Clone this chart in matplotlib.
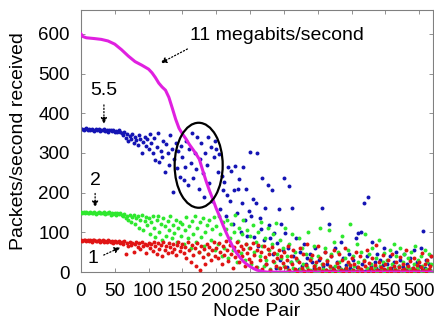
import numpy as np
import matplotlib
matplotlib.use("Agg")
import matplotlib.pyplot as plt
from matplotlib.patches import Ellipse

plt.rcParams['font.family'] = ['Liberation Sans', 'DejaVu Sans']

# -----------------------------
# Data (node pairs sorted by 11 Mbit/s throughput)
# -----------------------------

# 11 megabits/second curve
mag_x = [0, 3, 8, 20, 30, 40, 50, 60, 70, 80,
         90, 100, 105, 110, 115, 120, 125, 130, 135, 140,
         145, 150, 155, 160, 165, 170, 175, 180, 185, 190,
         195, 200, 205, 210, 215, 220, 225, 230, 235, 240,
         245, 250, 255, 260, 265, 270, 275, 520]
mag_y = [600, 593, 590, 588, 586, 582, 574, 560, 544, 530,
         521, 511, 502, 490, 476, 466, 458, 440, 413, 385,
         362, 348, 336, 322, 310, 298, 284, 256, 229, 205,
         183, 160, 140, 118, 98, 79, 62, 48, 37, 27,
         20, 14, 9, 5, 3, 1, 0, 0]

# 5.5 megabits/second, one value every second node pair
blue_y = [
    360, 361, 359, 360, 362, 358, 360, 357, 361, 359,
    356, 360, 358, 361, 355, 359, 357, 360, 356, 358,
    354, 359, 357, 355, 358, 352, 356, 354, 357, 353,
    350, 345, 352, 338, 347, 330, 342, 335, 348, 325,
    340, 333, 320, 345, 336, 300, 328, 341, 318, 335,
    310, 347, 325, 300, 338, 282, 315, 350, 276, 305,
    290, 330, 251, 322, 300, 270, 345, 310, 201, 285,
    325, 262, 305, 240, 318,
    290, 231, 264, 330, 220, 310, 274, 350, 236, 300,
    260, 340, 210, 285, 325, 250, 190, 300, 270, 340,
    225, 315, 180, 290, 330,
    311, 251, 298, 160, 243, 206, 226, 140, 195, 265,
    180, 255, 120, 206, 268, 150, 210, 235, 100, 175,
    264, 130, 210, 90, 155,
    302, 140, 185, 88, 173, 299, 65, 136, 108, 236,
    80, 161, 20, 220, 118, 85, 206, 45, 98, 10,
    73, 158, 30, 120, 55,
    236, 98, 12, 60, 216, 25, 161, 40, 5, 85,
    30, 8, 50, 15, 3, 70, 20, 35, 6, 45,
    2, 25, 10, 60, 4,
    8, 30, 3, 161, 15, 50, 5, 20, 121, 2,
    40, 10, 6, 60, 25, 3, 12, 75, 4, 35,
    8, 18, 2, 45, 10,
    5, 30, 3, 85, 12, 98, 6, 100, 20, 173,
    4, 40, 190, 8, 15, 75, 3, 25, 10, 45,
    5, 30, 2, 18, 60,
    6, 20, 3, 40, 10, 2, 25, 8, 50, 4,
    15, 30, 3, 12, 45, 5, 20, 2, 35, 8,
    10, 55, 4, 25, 3, 15, 60, 6, 103, 10,
    30, 3, 20, 5, 40,
]

# 2 megabits/second
green_y = [
    151, 150, 152, 149, 151, 150, 148, 152, 150, 149,
    151, 147, 150, 152, 148, 150, 149, 151, 146, 150,
    148, 151, 145, 149, 147, 150, 144, 148, 146, 149,
    145, 140, 147, 135, 142, 130, 144, 125, 138, 145,
    120, 136, 141, 112, 130, 143, 105, 128, 138, 118,
    135, 95, 125, 142, 110, 88, 130, 140, 100, 120,
    80, 136, 115, 92, 128, 105, 140, 85, 118, 98,
    132, 76, 110, 125, 90,
    120, 70, 105, 138, 85, 115, 60, 128, 95, 140,
    75, 110, 50, 125, 88, 135, 65, 100, 118, 45,
    130, 80, 108, 138, 55,
    115, 70, 140, 95, 40, 125, 60, 108, 130, 35,
    85, 120, 55, 100, 145, 25, 78, 112, 48, 95,
    130, 30, 70, 105, 60,
    90, 20, 118, 50, 75, 12, 100, 40, 125, 65,
    15, 85, 30, 110, 55, 8, 70, 95, 25, 123,
    45, 10, 80, 35, 60,
    15, 110, 40, 5, 70, 25, 95, 10, 50, 3,
    30, 85, 8, 60, 20, 4, 45, 12, 100, 6,
    35, 2, 65, 18, 9,
    40, 5, 112, 20, 8, 60, 3, 30, 106, 12,
    45, 4, 75, 15, 2, 50, 25, 7, 90, 3,
    35, 10, 55, 20, 120,
    6, 40, 15, 3, 70, 25, 8, 50, 2, 30,
    95, 10, 4, 45, 20, 60, 5, 12, 35, 3,
    80, 15, 6, 25, 48,
    4, 30, 10, 55, 3, 20, 70, 8, 40, 2,
    15, 60, 5, 25, 45, 3, 12, 35, 7, 50,
    2, 20, 65, 10, 30, 4, 40, 15, 3, 55,
    8, 25, 45, 5, 20,
]

# 1 megabit/second
red_y = [
    80, 79, 80, 81, 78, 80, 79, 80, 77, 80,
    81, 79, 78, 80, 76, 79, 80, 77, 79, 75,
    80, 78, 76, 79, 74, 78, 77, 75, 79, 73,
    76, 70, 78, 45, 72, 65, 77, 68, 74, 50,
    70, 76, 62, 73, 58, 75, 66, 71, 48, 69,
    74, 60, 70, 52, 77, 65, 45, 72, 58, 68,
    40, 75, 55, 66, 48, 72, 62, 50, 70, 57,
    44, 68, 75, 53, 63,
    70, 48, 62, 35, 75, 55, 25, 68, 42, 60,
    15, 72, 50, 5, 65, 38, 58, 20, 70, 45,
    62, 30, 55, 75, 40,
    60, 35, 72, 50, 20, 65, 42, 78, 55, 28,
    68, 45, 10, 62, 38, 75, 52, 25, 66, 40,
    58, 15, 70, 48, 32,
    60, 25, 72, 42, 12, 55, 68, 30, 50, 8,
    65, 38, 20, 58, 45, 5, 62, 28, 48, 15,
    35, 55, 10, 40, 22,
    50, 12, 30, 65, 5, 40, 20, 55, 8, 35,
    3, 25, 60, 10, 45, 4, 18, 70, 6, 30,
    2, 42, 15, 8, 25,
    65, 10, 35, 4, 20, 50, 6, 28, 2, 15,
    40, 8, 55, 3, 22, 12, 45, 5, 30, 2,
    60, 10, 25, 4, 18,
    35, 6, 20, 50, 3, 12, 40, 8, 2, 28,
    15, 55, 4, 22, 10, 35, 3, 18, 68, 6,
    25, 2, 14, 42, 8,
    20, 4, 30, 10, 2, 45, 15, 6, 25, 3,
    12, 38, 5, 20, 8, 55, 2, 15, 28, 4,
    10, 35, 6, 18, 3, 25, 12, 48, 5, 20,
    2, 30, 8, 15, 40,
]

pair_x = np.arange(0, 520, 2)

# -----------------------------
# Plot
# -----------------------------

fig = plt.figure(figsize=(4.35, 3.22), dpi=100)
ax = fig.add_axes([0.186, 0.155, 0.809, 0.814])

ax.scatter(pair_x[:len(blue_y)], blue_y, s=8, color="#1414b4", linewidths=0, zorder=2)
ax.scatter(pair_x[:len(green_y)], green_y, s=8, color="#2ee82e", linewidths=0, zorder=3)
ax.scatter(pair_x[:len(red_y)], red_y, s=8, color="#e01414", linewidths=0, zorder=3)
ax.plot(mag_x, mag_y, color="#e020e0", linewidth=2.2, zorder=4)

ax.add_patch(Ellipse((174, 269), 71, 214, fill=False, edgecolor="black", linewidth=1.6, zorder=5))

arrow = dict(arrowstyle="-|>", linestyle=":", color="black", linewidth=0.9, mutation_scale=9)

ax.text(161, 595, "11 megabits/second", fontsize=14, ha="left", va="center")
ax.annotate("", xy=(114, 523), xytext=(161, 565), arrowprops=arrow)

ax.text(34, 457, "5.5", fontsize=14, ha="center", va="center")
ax.annotate("", xy=(34, 366), xytext=(34, 428), arrowprops=arrow)

ax.text(21, 231, "2", fontsize=14, ha="center", va="center")
ax.annotate("", xy=(21, 156), xytext=(21, 205), arrowprops=arrow)

ax.text(18, 35, "1", fontsize=14, ha="center", va="center")
ax.annotate("", xy=(62, 65), xytext=(30, 40), arrowprops=arrow)

ax.set_xlim(0, 520)
ax.set_ylim(0, 660)
ax.set_xticks(np.arange(0, 501, 50))
ax.set_yticks(np.arange(0, 601, 100))

ax.set_xlabel("Node Pair", fontsize=14, labelpad=2)
ax.set_ylabel("Packets/second received", fontsize=14, labelpad=8)

ax.tick_params(direction="in", length=3, width=0.6, color="#808080",
               labelsize=13.5, top=True, right=True, pad=8)
for spine in ax.spines.values():
    spine.set_color("#808080")
    spine.set_linewidth(0.8)

fig.savefig("out.png", dpi=100)
